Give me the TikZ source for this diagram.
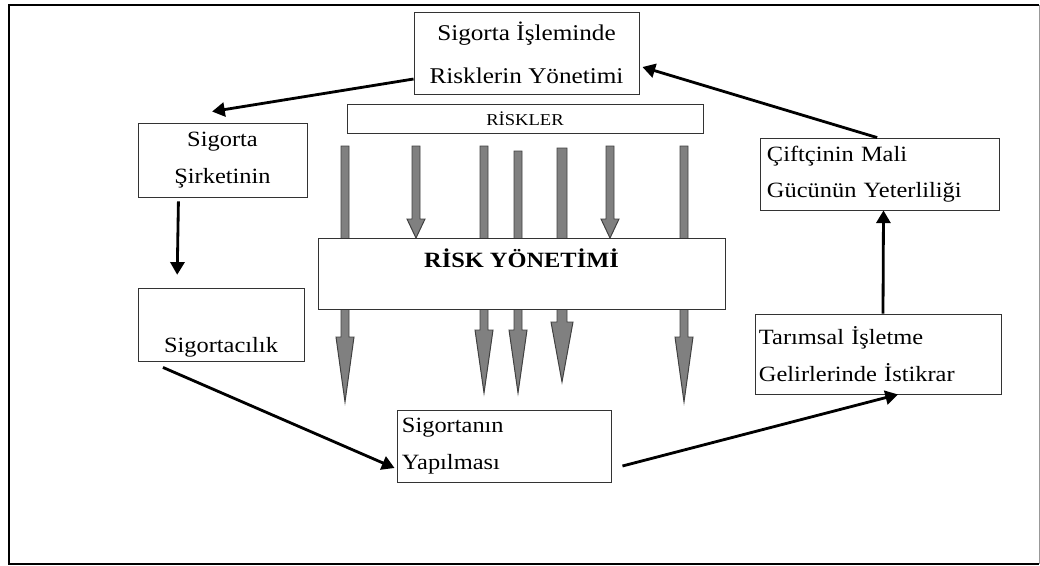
\documentclass[tikz,border=0pt]{standalone}
\usepackage{fontspec}
\setmainfont{Liberation Serif}[FakeStretch=1.12]
\usetikzlibrary{arrows.meta}
\definecolor{riskgray}{RGB}{128,128,128}
\tikzstyle{box} = [rectangle, draw=black!80, line width=0.6pt, fill=white,
                   inner sep=4pt, font=\fontsize{15.5}{26}\selectfont]
\tikzstyle{riskarrow} = [fill=riskgray, draw=black!75, line width=0.7pt]
\tikzstyle{arrow} = [line width=2pt,-{Triangle[length=9pt,width=10pt]}]
\newcommand{\riskok}[6]{%
  \filldraw [riskarrow] ({#1-#5},#2) -- ({#1+#5},#2) -- ({#1+#5},#3) -- ({#1+#6},#3)
    -- (#1,#4) -- ({#1-#6},#3) -- ({#1-#5},#3) -- cycle;}

\begin{document}
\begin{tikzpicture}[x=0.025cm, y=-0.025cm]
        \useasboundingbox (0,0) rectangle (1040,566);
        
        \draw [line width=2pt] (1039,5) -- (9,5) -- (9,564) -- (1039,564);
        \draw [black!40, line width=0.6pt] (1039,5) -- (1039,564);
        
        
        \riskok{345}{146}{337}{402}{4}{9} %risk 1
        \riskok{416}{146}{219}{238}{4}{9} %risk 2
        \riskok{484}{146}{330}{393}{4}{9} %risk 3
        \riskok{518}{151}{330}{393}{4}{9} %risk 4
        \riskok{562}{148}{322}{382}{5}{11} %risk 5
        \riskok{610}{146}{219}{238}{4}{9} %risk 6
        \riskok{684}{146}{337}{402}{4}{9} %risk 7
        
        
        \node (yonetim) [box, font=\fontsize{16}{31}\selectfont, align=center,
                         minimum width=5.625cm, minimum height=2.05cm] at (526.5,53) {Sigorta İşleminde\\Risklerin Yönetimi};
        
        \node (riskler) [box, font=\fontsize{11.8}{13}\selectfont,
                         minimum width=8.9cm, minimum height=0.725cm] at (525,118.5) {RİSKLER};
        
        \node (riskyon) [box, font=\fontsize{15.5}{17}\selectfont\bfseries, inner sep=0pt,
                         minimum width=10.175cm, text height=0.725cm, text depth=1.05cm] at (521.5,273.5) {RİSK YÖNETİMİ};
        
        \node (sirket) [box, align=center, minimum width=4.225cm, minimum height=1.85cm] at (222.5,160) {Sigorta\\Şirketinin};
        
        \node (sigortacilik) [box, inner sep=0pt, minimum width=4.15cm,
                              text height=1.6cm, text depth=0.225cm] at (221,324.5) {Sigortacılık};
        
        \node (yapilmasi) [box, align=left, inner xsep=0.125cm, text width=5.1cm,
                           minimum height=1.8cm] at (504,446) {Sigortanın\\Yapılması};
        
        \node (tarimsal) [box, align=left, inner xsep=0.1cm, text width=5.95cm,
                          minimum height=2cm] at (878,354) {Tarımsal İşletme\\Gelirlerinde İstikrar};
        
        \node (ciftci) [box, align=left, inner xsep=0.175cm, text width=5.625cm,
                        minimum height=1.8cm] at (879.5,174) {Çiftçinin Mali\\Gücünün Yeterliliği};
        
        
        \draw [arrow] ([yshift=-0.65cm]yonetim.west) -- ([xshift=-0.26cm, yshift=0.275cm]sirket.north);
        \draw [arrow, shorten <=0.1cm, shorten >=0.32cm] ([xshift=-1.1cm]sirket.south) -- ([xshift=-1.1cm]sigortacilik.north);
        \draw [arrow] ([xshift=-1.45cm, yshift=-0.15cm]sigortacilik.south) -- ([xshift=-0.05cm, yshift=-0.55cm]yapilmasi.west);
        \draw [arrow] ([xshift=0.275cm, yshift=-0.5cm]yapilmasi.east) -- ([xshift=0.5cm]tarimsal.south);
        \draw [arrow] ([xshift=0.125cm]tarimsal.north) -- ([xshift=0.1cm]ciftci.south);
        \draw [arrow] ([xshift=-0.06cm]ciftci.north) -- ([xshift=0.075cm, yshift=-0.35cm]yonetim.east);
        
\end{tikzpicture}
\end{document}
